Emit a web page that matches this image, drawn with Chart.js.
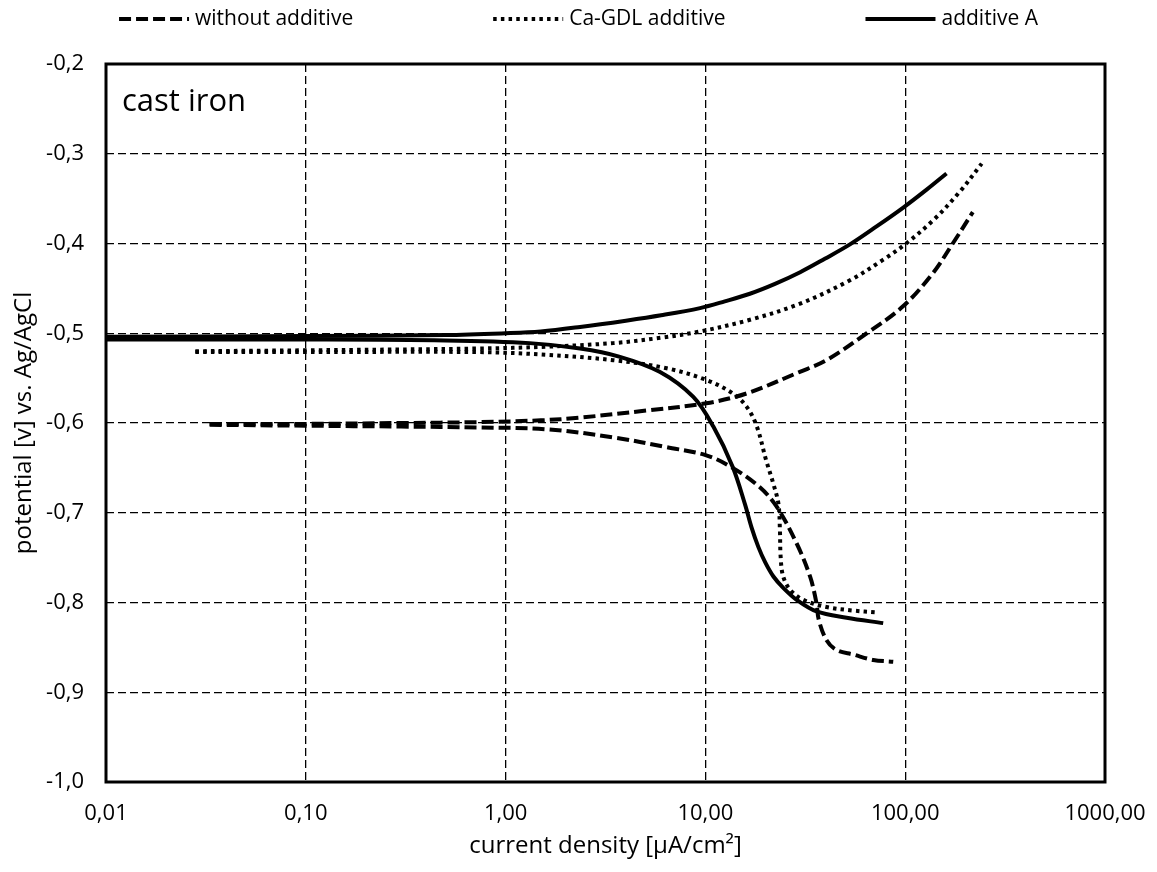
<!DOCTYPE html>
<html>
<head>
<meta charset="utf-8">
<title>cast iron - polarisation curves</title>
<script src="https://cdn.jsdelivr.net/npm/chart.js@4.4.0/dist/chart.umd.min.js"></script>
<style>
    html, body { margin: 0; padding: 0; background: #ffffff; }
</style>
</head>
<body>
<canvas id="tafelChart" width="1157" height="872"></canvas>
<script>
// axis ticks
var xTickValues = [0.01, 0.1, 1, 10, 100, 1000];
var yMin = -1.0, yMax = -0.2, yStep = 0.1;

var seriesNames = ['without additive', 'Ca-GDL additive', 'additive A'];

// without additive (dashed)
var noAddAnodicI = [0.033, 0.1, 0.3, 0.74, 1.5, 2.36, 5.1, 10.1, 16.1, 29.7, 40.4, 64.2, 97.5, 137.6, 173, 218];
var noAddAnodicE = [-0.601, -0.601, -0.600, -0.599, -0.597, -0.594, -0.586, -0.578, -0.567, -0.543, -0.530, -0.500, -0.470, -0.433, -0.400, -0.365];
var noAddCathodicI = [0.033, 0.1, 0.3, 0.74, 1.6, 3.46, 6.4, 10.1, 13.7, 18.6, 22.7, 28.6, 33.4, 36.0, 36.9, 40.4, 45.4, 55.0, 69.2, 87.1];
var noAddCathodicE = [-0.602, -0.603, -0.604, -0.605, -0.607, -0.616, -0.627, -0.636, -0.650, -0.671, -0.693, -0.734, -0.771, -0.801, -0.819, -0.842, -0.853, -0.858, -0.864, -0.866];

// Ca-GDL additive (dotted)
var caGdlAnodicI = [0.028, 0.1, 0.74, 1.6, 3.46, 6.0, 9.4, 16.7, 29.8, 52.9, 77.7, 99.8, 138.3, 188, 241.5];
var caGdlAnodicE = [-0.520, -0.519, -0.517, -0.515, -0.511, -0.505, -0.498, -0.485, -0.467, -0.441, -0.418, -0.401, -0.374, -0.342, -0.311];
var caGdlCathodicI = [0.028, 0.1, 0.74, 1.6, 3.46, 6.4, 10.1, 13.7, 16.1, 18.1, 20.1, 21.9, 23.2, 23.6, 23.8, 24.5, 26.6, 30.9, 40.4, 55, 71.6];
var caGdlCathodicE = [-0.521, -0.521, -0.521, -0.524, -0.530, -0.539, -0.552, -0.567, -0.582, -0.604, -0.641, -0.668, -0.690, -0.719, -0.749, -0.771, -0.786, -0.797, -0.805, -0.809, -0.811];

// additive A (solid)
var addAAnodicI = [0.01, 0.1, 0.5, 1, 1.5, 2.36, 4, 6, 9.4, 12.5, 16.7, 22.3, 29.8, 39.6, 52.9, 71.9, 97.8, 128, 161];
var addAAnodicE = [-0.504, -0.503, -0.502, -0.500, -0.498, -0.493, -0.486, -0.480, -0.472, -0.4645, -0.456, -0.445, -0.432, -0.417, -0.401, -0.381, -0.360, -0.340, -0.322];
var addACathodicI = [0.01, 0.1, 0.5, 1.32, 2.36, 3.7, 5.9, 8.7, 10.96, 13.7, 15.8, 17.0, 18.4, 19.9, 21.9, 24.6, 28.6, 36.0, 50.9, 77.6];
var addACathodicE = [-0.507, -0.507, -0.508, -0.511, -0.517, -0.526, -0.543, -0.571, -0.604, -0.649, -0.691, -0.716, -0.738, -0.755, -0.771, -0.784, -0.797, -0.810, -0.817, -0.823];

var FONT = '"Open Sans", "Liberation Sans", sans-serif';

function toPoints(iArr, eArr) {
    return iArr.map(function (v, k) { return { x: v, y: eArr[k] }; });
}

var styles = [
    { dash: [12, 5] },
    { dash: [3.5, 4.2] },
    { dash: [] }
];

function branch(name, idx, iArr, eArr, inLegend) {
    return {
        label: name,
        data: toPoints(iArr, eArr),
        borderColor: '#000000',
        backgroundColor: '#000000',
        borderWidth: 4,
        borderDash: styles[idx].dash,
        borderCapStyle: 'butt',
        pointRadius: 0,
        tension: 0.35,
        fill: false,
        showLine: true,
        inLegend: inLegend
    };
}

var data = {
    datasets: [
        branch(seriesNames[0], 0, noAddAnodicI, noAddAnodicE, true),
        branch(seriesNames[0], 0, noAddCathodicI, noAddCathodicE, false),
        branch(seriesNames[1], 1, caGdlAnodicI, caGdlAnodicE, true),
        branch(seriesNames[1], 1, caGdlCathodicI, caGdlCathodicE, false),
        branch(seriesNames[2], 2, addAAnodicI, addAAnodicE, true),
        branch(seriesNames[2], 2, addACathodicI, addACathodicE, false)
    ]
};

// legend row at the top, evenly spaced like the original
var rowLegend = {
    id: 'rowLegend',
    afterDraw: function (chart) {
        var ctx = chart.ctx;
        var items = chart.data.datasets.filter(function (d) { return d.inLegend; });
        var sample = 70, textGap = 6, itemGap = 140, y = 19;
        ctx.save();
        ctx.font = '21px ' + FONT;
        var widths = items.map(function (d) {
            return sample + textGap + ctx.measureText(d.label).width;
        });
        var total = widths.reduce(function (a, b) { return a + b; }, 0) + itemGap * (items.length - 1);
        var x = (chart.width - total) / 2;
        items.forEach(function (d, k) {
            ctx.strokeStyle = d.borderColor;
            ctx.lineWidth = d.borderWidth;
            ctx.lineCap = 'butt';
            ctx.setLineDash(d.borderDash);
            ctx.beginPath();
            ctx.moveTo(x, y);
            ctx.lineTo(x + sample, y);
            ctx.stroke();
            ctx.setLineDash([]);
            ctx.fillStyle = '#000000';
            ctx.textAlign = 'left';
            ctx.textBaseline = 'middle';
            ctx.fillText(d.label, x + sample + textGap, y);
            x += widths[k] + itemGap;
        });
        ctx.restore();
    }
};

// solid frame round the plot area and the "cast iron" label
var frameAndNote = {
    id: 'frameAndNote',
    afterDatasetsDraw: function (chart) {
        var ctx = chart.ctx;
        var a = chart.chartArea;
        ctx.save();
        ctx.strokeStyle = '#000000';
        ctx.lineWidth = 3;
        ctx.setLineDash([]);
        ctx.strokeRect(a.left, a.top, a.right - a.left, a.bottom - a.top);
        ctx.fillStyle = '#000000';
        ctx.font = '31px ' + FONT;
        ctx.textAlign = 'left';
        ctx.textBaseline = 'middle';
        ctx.fillText('cast iron', a.left + 16, a.top + 38);
        ctx.restore();
    }
};

var config = {
    type: 'scatter',
    data: data,
    options: {
        responsive: false,
        animation: false,
        layout: { padding: { top: 64, right: 52, left: 0, bottom: 0 } },
        plugins: {
            legend: { display: false },
            tooltip: { enabled: false }
        },
        scales: {
            x: {
                type: 'logarithmic',
                min: xTickValues[0],
                max: xTickValues[xTickValues.length - 1],
                afterBuildTicks: function (scale) {
                    scale.ticks = xTickValues.map(function (v) { return { value: v }; });
                },
                afterFit: function (scale) {
                    scale.height = 90;
                    scale.paddingLeft = 0;
                    scale.paddingRight = 0;
                },
                grid: { color: '#000000', lineWidth: 1.3, drawTicks: false },
                border: { display: false, dash: [8, 4] },
                ticks: {
                    color: '#000000',
                    font: { family: FONT, size: 22 },
                    padding: 19,
                    maxRotation: 0,
                    autoSkip: false,
                    callback: function (v) { return Number(v).toFixed(2).replace('.', ','); }
                },
                title: {
                    display: true,
                    text: 'current density [µA/cm²]',
                    color: '#000000',
                    font: { family: FONT, size: 24 },
                    padding: { top: 0, bottom: 11 }
                }
            },
            y: {
                min: yMin,
                max: yMax,
                afterFit: function (scale) { scale.width = 106; },
                grid: { color: '#000000', lineWidth: 1.3, drawTicks: false },
                border: { display: false, dash: [8, 4] },
                ticks: {
                    stepSize: yStep,
                    color: '#000000',
                    font: { family: FONT, size: 22 },
                    padding: 22,
                    callback: function (v) { return Number(v).toFixed(1).replace('.', ','); }
                },
                title: {
                    display: true,
                    text: 'potential [v] vs. Ag/AgCl',
                    color: '#000000',
                    font: { family: FONT, size: 24 },
                    padding: { top: 10, bottom: 0 }
                }
            }
        }
    },
    plugins: [rowLegend, frameAndNote]
};

var tafelChart = new Chart(document.getElementById('tafelChart'), config);
</script>
</body>
</html>
